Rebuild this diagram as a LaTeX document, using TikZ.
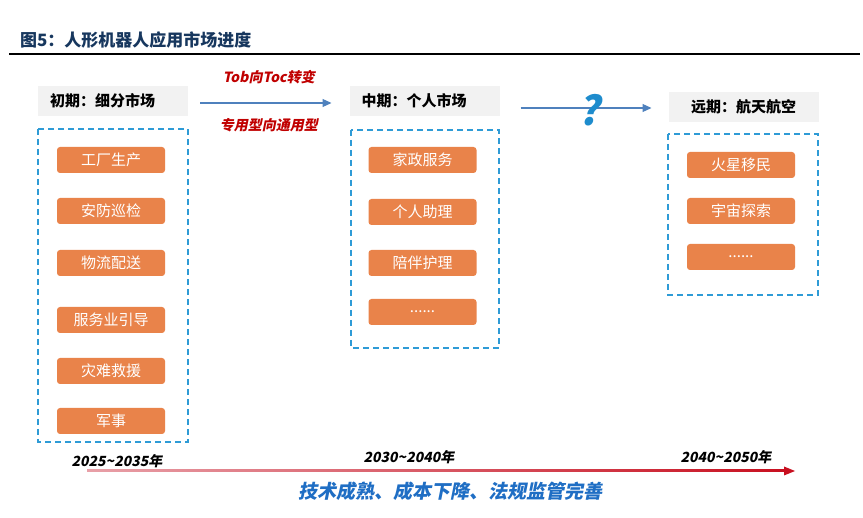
\documentclass[tikz,border=0pt]{standalone}
\usepackage{fontspec}
\newfontfamily\cjk{Noto Sans CJK SC}
\newfontfamily\cjkit{Noto Sans CJK SC}[FakeSlant=0.2]
\usepackage{xcolor}
\definecolor{navy}{RGB}{23,55,94}
\definecolor{headgray}{RGB}{242,242,242}
\definecolor{boxorange}{RGB}{233,131,74}
\definecolor{frameblue}{RGB}{46,155,214}
\definecolor{flowblue}{RGB}{79,129,189}
\definecolor{notered}{RGB}{192,0,0}
\definecolor{sumblue}{RGB}{31,110,196}
\definecolor{qblue}{RGB}{30,140,205}
\definecolor{tlpink}{RGB}{232,160,168}
\definecolor{tlred}{RGB}{200,16,32}
\usetikzlibrary{positioning}
\usetikzlibrary{arrows.meta}

\begin{document}
\begin{tikzpicture}[x=1pt,y=-1pt,node distance=25pt,
  every node/.style={inner sep=0,outer sep=0},
  head/.style={fill=headgray,minimum width=150pt,minimum height=30pt,font=\cjk\bfseries\fontsize{15}{18}\selectfont},
  headl/.style={head,text width=126pt,inner xsep=12pt,align=left},
  item/.style={fill=boxorange,rounded corners=3pt,minimum width=108pt,minimum height=26pt,text=white,font=\cjk\fontsize{15}{18}\selectfont},
  frame/.style={draw=frameblue,line width=1.3pt,dash pattern=on 6pt off 4pt},
  flow/.style={draw=flowblue,line width=1.2pt,-{Triangle[length=9pt,width=8pt]}},
  note/.style={text=notered,font=\cjkit\bfseries\fontsize{14}{16}\selectfont},
  yearlab/.style={font=\cjkit\bfseries\fontsize{14}{16}\selectfont},
  summary/.style={text=sumblue,font=\cjkit\bfseries\fontsize{19}{22}\selectfont}]
	\useasboundingbox (0,0) rectangle (863,518);
	\node (title) [anchor=west,text=navy,font=\cjk\bfseries\fontsize{17}{20}\selectfont] at (20,40) {图5：人形机器人应用市场进度};
	\draw[line width=2pt] (9,54) -- (860,54);

	\node (h1) [headl] at (113,101) {初期：细分市场};
	\node (h2) [headl] at (424.5,101) {中期：个人市场};
	\node (h3) [head] at (743.5,107) {远期：航天航空};

	\draw[frame] (38,129) rectangle (188,442);
	\draw[frame] (351,130) rectangle (499,348);
	\draw[frame] (668,134) rectangle (818,295);

	\node (f1) [item] at (111,160) {工厂生产};
	\node (f2) [item, below=of f1] {安防巡检};
	\node (f3) [item, below=26pt of f2] {物流配送};
	\node (f4) [item, below=31pt of f3] {服务业引导};
	\node (f5) [item, below=of f4] {灾难救援};
	\node (f6) [item, below=24pt of f5] {军事};

	\node (m1) [item] at (422.5,160) {家政服务};
	\node (m2) [item, below=26pt of m1] {个人助理};
	\node (m3) [item, below=of m2] {陪伴护理};
	\node (m4) [item, below=23pt of m3] {......};

	\node (l1) [item] at (741,165) {火星移民};
	\node (l2) [item, below=20pt of l1] {宇宙探索};
	\node (l3) [item, below=20pt of l2] {......};

	\draw[flow,shorten <=12pt,shorten >=18pt] ([yshift=-2pt]h1.east) -- ([yshift=-2pt]h2.west)
		node[midway,yshift=26pt,note] (tob) {Tob向Toc转变}
		node[midway,yshift=-22pt,note] (gen) {专用型向通用型};
	\draw[flow,shorten <=21pt,shorten >=17pt] ([yshift=-7pt]h2.east) -- ([yshift=-1pt]h3.west)
		node[pos=0.53,yshift=-2pt,text=qblue,font=\cjkit\bfseries\fontsize{40}{40}\selectfont] (ask) {?};

	\coordinate (t0) at (87,471);
	\coordinate (t1) at (795,471);
	\shade[left color=tlpink,right color=tlred] ([yshift=1pt]t0) rectangle ([xshift=-10pt,yshift=-1pt]t1);
	\fill[tlred] (t1) -- ([xshift=-11pt,yshift=4.5pt]t1) -- ([xshift=-11pt,yshift=-4.5pt]t1) -- cycle;

	\node (y1) [yearlab] at (117,461) {2025\textasciitilde 2035年};
	\node (y2) [yearlab] at (409,457) {2030\textasciitilde 2040年};
	\node (y3) [yearlab] at (726,457.5) {2040\textasciitilde 2050年};
	\node (goal) [summary] at (450,491) {技术成熟、成本下降、法规监管完善};
\end{tikzpicture}
\end{document}
